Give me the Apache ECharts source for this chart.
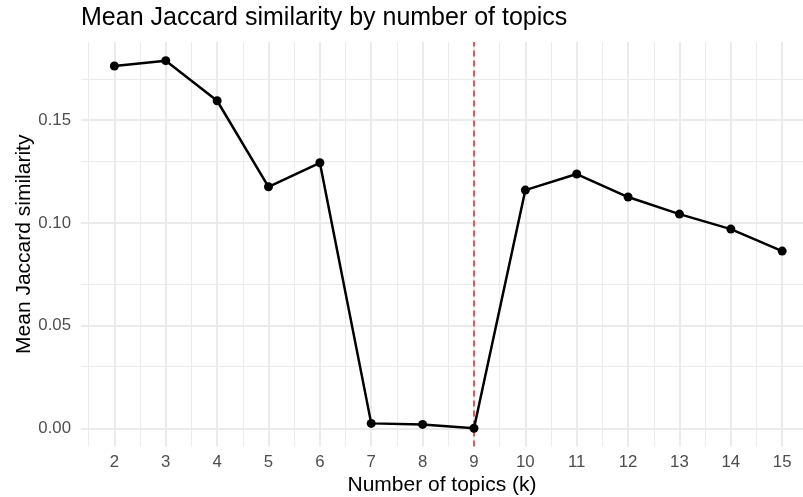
<!DOCTYPE html>
<html><head><meta charset="utf-8">
<script src="https://cdn.jsdelivr.net/npm/echarts@6/dist/echarts.min.js"></script>
<style>html,body{margin:0;padding:0;background:#fff}#c{width:803px;height:497px}</style>
</head><body><div id="c"></div>
<script>
const topics = [2, 3, 4, 5, 6, 7, 8, 9, 10, 11, 12, 13, 14, 15];
const meanJaccard = [0.1764, 0.1790, 0.1595, 0.1176, 0.1293, 0.0024, 0.0019, 0.0000, 0.1160, 0.1238, 0.1126, 0.1043, 0.0970, 0.0863];
const xTicks = [2, 3, 4, 5, 6, 7, 8, 9, 10, 11, 12, 13, 14, 15];
const xMinorTicks = [1.5, 2.5, 3.5, 4.5, 5.5, 6.5, 7.5, 8.5, 9.5, 10.5, 11.5, 12.5, 13.5, 14.5];
const yTicks = [0, 0.05, 0.10, 0.15];
const yMinorTicks = [0.025, 0.075, 0.125, 0.175];
const chosenK = 9;
const titleText = 'Mean Jaccard similarity by number of topics';
const xTitle = 'Number of topics (k)';
const yTitle = 'Mean Jaccard similarity';

const FONT = '"Liberation Sans", Arial, Helvetica, sans-serif';
const GRID = '#EBEBEB';
const chart = echarts.init(document.getElementById('c'), null, {renderer: 'canvas'});

const gridLines = [];
xMinorTicks.forEach(v => gridLines.push({xAxis: v, lineStyle: {color: GRID, width: 1, type: 'solid'}}));
yMinorTicks.forEach(v => gridLines.push({yAxis: v, lineStyle: {color: GRID, width: 1, type: 'solid'}}));
xTicks.forEach(v => gridLines.push({xAxis: v, lineStyle: {color: GRID, width: 2, type: 'solid'}}));
yTicks.forEach(v => gridLines.push({yAxis: v, lineStyle: {color: GRID, width: 2, type: 'solid'}}));

const pts = topics.map((k, i) => [k, meanJaccard[i]]);

chart.setOption({
  animation: false,
  backgroundColor: '#ffffff',
  textStyle: {fontFamily: FONT},
  title: {
    text: titleText, left: 81, top: 6, padding: 0,
    textStyle: {fontFamily: FONT, fontSize: 25, fontWeight: 'normal', color: '#000000'}
  },
  grid: {left: 81, right: 0, top: 42, bottom: 50.5, containLabel: false, outerBoundsMode: 'none'},
  xAxis: {
    type: 'value', min: 1.35, max: 15.405,
    name: xTitle, nameLocation: 'middle', nameGap: 28, nameMoveOverlap: false,
    nameTextStyle: {fontFamily: FONT, fontSize: 21, color: '#000000'},
    axisLine: {show: false}, axisTick: {show: false}, splitLine: {show: false},
    axisLabel: {customValues: xTicks, margin: 7, fontFamily: FONT, fontSize: 16.8, color: '#4D4D4D',
      showMinLabel: true, showMaxLabel: true}
  },
  yAxis: {
    type: 'value', min: -0.00886, max: 0.1881,
    name: yTitle, nameLocation: 'middle', nameGap: 46, nameMoveOverlap: false,
    nameTextStyle: {fontFamily: FONT, fontSize: 21, color: '#000000'},
    axisLine: {show: false}, axisTick: {show: false}, splitLine: {show: false},
    axisLabel: {customValues: yTicks, margin: 10, fontFamily: FONT, fontSize: 16.8, color: '#4D4D4D',
      formatter: v => Number(v).toFixed(2)}
  },
  series: [
    {
      name: 'grid', type: 'line', data: [], silent: true, z: 1,
      symbol: 'none',
      markLine: {silent: true, z: 1, symbol: 'none', label: {show: false}, animation: false, data: gridLines}
    },
    {
      name: 'chosen', type: 'line', data: [], silent: true, z: 2,
      symbol: 'none',
      markLine: {silent: true, z: 2, symbol: 'none', label: {show: false}, animation: false,
        data: [{xAxis: chosenK, lineStyle: {color: '#E8262B', width: 1.5, type: [6, 4]}}]}
    },
    {
      name: 'Mean Jaccard similarity', type: 'line', data: pts, z: 10,
      symbol: 'circle', symbolSize: 9, showAllSymbol: true,
      itemStyle: {color: '#000000', borderWidth: 0, borderColor: '#000000'},
      lineStyle: {color: '#000000', width: 2.5},
      emphasis: {disabled: true}
    }
  ]
});
</script>
</body></html>
